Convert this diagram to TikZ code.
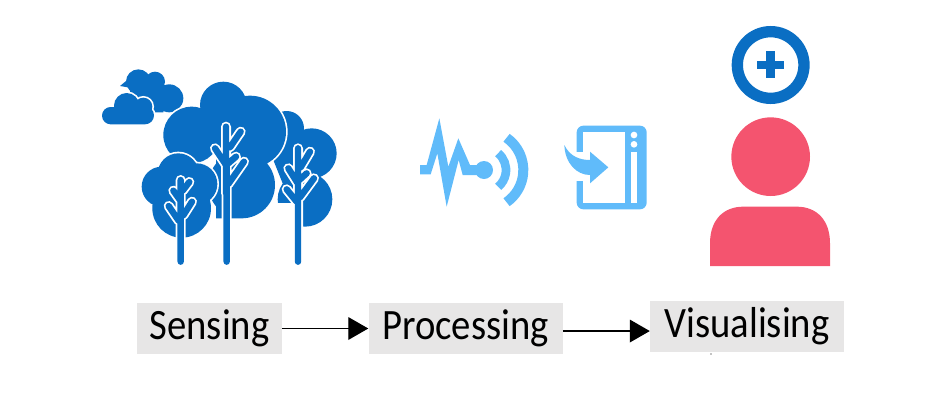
\documentclass[tikz,border=0pt]{standalone}
\usepackage{fontspec}
\setmainfont{Carlito}
\usetikzlibrary{arrows.meta,positioning}
\definecolor{iconblue}{RGB}{10,110,195}
\definecolor{softsky}{RGB}{96,187,250}
\definecolor{personpink}{RGB}{244,84,111}
\definecolor{boxgray}{RGB}{231,230,230}
\tikzset{
  stage/.style={
    fill=boxgray,
    inner sep=0pt,
    minimum height=38.25pt,
    font=\fontsize{29}{32}\selectfont
  },
  arrow/.style={-{Triangle[length=15pt,width=17pt]}, line width=1pt, draw=black},
  halo/.style={draw=white, line width=2.5pt},
  limbhalo/.style={draw=white, line width=7.5pt, line cap=round},
  limbfill/.style={draw=iconblue, line width=4.8pt, line cap=round},
  wave/.style={draw=softsky, line width=#1}
}
\newcommand{\crown}[1]{\draw[halo] #1; \fill[iconblue] #1;}
\newcommand{\limbs}[1]{\draw[limbhalo] #1; \draw[limbfill] #1;}
\newcommand{\tall}[1]{\raisebox{-2pt}{\scalebox{1}[1.12]{#1}}}
\begin{document}
\begin{tikzpicture}[x=0.75pt,y=-0.75pt]
    \useasboundingbox (0,0) rectangle (936,404);
    % trees and clouds
    \begin{scope}[shift={(90,60)},x=0.25pt,y=-0.25pt]
      \fill[iconblue] (145,65) circle (37) (195,65) circle (30) (238,115) circle (42) (120,157) rectangle (220,70) (90,78) -- (130,45) -- (130,85) -- cycle;
      \crown{(110,137) circle (38) (62,167) circle (26) (160,140) circle (27) (165,166) circle (27) (62,193) rectangle (165,141)}
      \crown{(590,205) circle (52) (665,280) circle (75) (645,418) circle (82) (590,400) -- (550,300) -- (570,250) -- (650,250) -- (650,400) -- cycle}
      \fill[white] (540,430) rectangle (616,510);
      \crown{(400,135) circle (70) (305,225) circle (85) (480,215) circle (108) (455,375) circle (100) (378,475) rectangle (455,280)}
      \crown{(265,342) circle (62) (215,380) circle (60) (320,372) circle (62) (275,445) circle (88)}
      \limbs{(410,300) -- (410,605) (408,200) -- (408,400) (452,215) -- (420,262) (375,265) -- (408,315) (462,305) -- (415,372) (438,290) -- (415,310)}
      \limbs{(624,400) -- (624,605) (624,265) -- (624,400) (660,275) -- (632,322) (595,325) -- (622,368) (672,355) -- (630,412) (650,340) -- (628,360) (590,388) -- (620,425)}
      \limbs{(272,490) -- (272,605) (272,360) -- (272,490) (298,366) -- (278,392) (250,392) -- (270,420) (306,425) -- (280,466) (236,438) -- (266,482)}
    \end{scope}
    % signal
    \begin{scope}[shift={(410,110)},x=0.25pt,y=-0.25pt]
      \fill[softsky] (30,165) -- (50,165) -- (88,25) -- (115,170) -- (145,85) -- (180,165) -- (205,165)
        -- (205,195) -- (158,195) -- (146,150) -- (110,290) -- (82,130) -- (62,193) -- (30,193) -- cycle;
      \fill[softsky] (222,180) circle (27);
      \coordinate (signal) at (222,180);
      \draw[wave=6.5pt] ([shift={(-50:66)}]signal) arc[start angle=-50, end angle=50, radius=66];
      \draw[wave=7.5pt] ([shift={(-55:118)}]signal) arc[start angle=-55, end angle=55, radius=118];
      % door
      \fill[softsky, rounded corners=5pt] (500,47) rectangle (710,298);
      \fill[white] (520,65) rectangle (645,280);
      \fill[white] (495,125) rectangle (525,213);
      \foreach \doty in {75,103} {
        \fill[white] (672,\doty) circle (10);
      }
      \fill[white] (662,125) rectangle (682,280);
      \fill[softsky] (463,105) .. controls (480,140) and (510,150) .. (540,150) -- (540,125) -- (595,172)
        -- (540,220) -- (540,195) .. controls (500,195) and (465,160) .. (463,105) -- cycle;
    \end{scope}
    % person
    \begin{scope}[shift={(700,20)},x=0.25pt,y=-0.25pt]
      \draw[iconblue, line width=8.5pt] (212,135) circle (100);
      \fill[iconblue] (172,122) rectangle (252,148);
      \fill[iconblue] (199,93) rectangle (225,175);
      \fill[personpink] (212,410) circle (118);
      \fill[personpink] (30,738) -- (30,670) .. controls (30,600) and (70,560) .. (130,560) -- (290,560)
        .. controls (350,560) and (390,600) .. (390,670) -- (390,738) -- cycle;
    \end{scope}
    % stages
    \node[stage, minimum width=108.75pt] (sensing) at (209.5,328.5) {\tall{Sensing}};
    \node[stage, minimum width=145.5pt, right=64.5pt of sensing] (processing) {\tall{Processing}};
    \node[stage, minimum width=145.5pt, right=65.25pt of processing, yshift=1.5pt] (visualising) {\tall{Visualising}};
    \fill[black] (711,354) circle (0.7);
    \draw[arrow] (sensing) -- (processing);
    \draw[arrow] ([yshift=-1.9pt]processing.east) -- ([yshift=-1.9pt]processing.east -| visualising.west);
  \end{tikzpicture}
\end{document}
